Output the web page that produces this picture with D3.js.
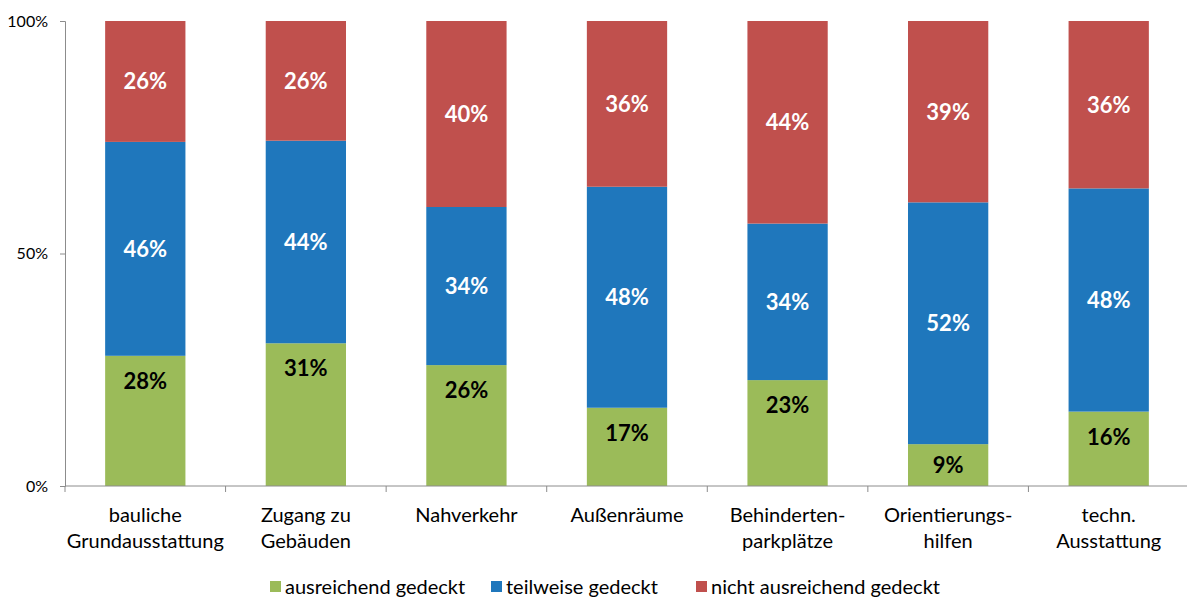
<!DOCTYPE html>
<html>
<head>
<meta charset="utf-8">
<script src="https://cdn.jsdelivr.net/npm/d3@7"></script>
<style>
  body { margin: 0; background: #fff; }
  text { font-family: Lato, "Open Sans", sans-serif; }
</style>
</head>
<body>
<svg id="chart" width="1187" height="599"></svg>
<script>
var categories = [
  ["bauliche", "Grundausstattung"],
  ["Zugang zu", "Gebäuden"],
  ["Nahverkehr"],
  ["Außenräume"],
  ["Behinderten-", "parkplätze"],
  ["Orientierungs-", "hilfen"],
  ["techn.", "Ausstattung"]
];
var ausreichend = [28, 31, 26, 17, 23, 9, 16];
var teilweise = [46, 44, 34, 48, 34, 52, 48];
var nicht = [26, 26, 40, 36, 44, 39, 36];
var seriesNames = ["ausreichend gedeckt", "teilweise gedeckt", "nicht ausreichend gedeckt"];
var yTicks = [0, 0.5, 1];

(function() {
  var colors = ["#9BBB59", "#1F77BC", "#C0504D"];
  var labelColors = ["#000", "#fff", "#fff"];
  var svg = d3.select("#chart");
  var mLeft = 65, mRight = 1189, mTop = 21, mBottom = 486;

  var rows = categories.map(function(c, i) {
    return { s0: ausreichend[i], s1: teilweise[i], s2: nicht[i] };
  });
  var layers = d3.stack().keys(["s0", "s1", "s2"]).offset(d3.stackOffsetExpand)(rows);

  var x = d3.scaleBand().domain(d3.range(categories.length)).range([mLeft, mRight]).paddingInner(0.5).paddingOuter(0.25);
  var xb = d3.scaleBand().domain(d3.range(categories.length)).range([mLeft, mRight]);
  var y = d3.scaleLinear().domain([0, 1]).range([mBottom, mTop]);

  // y axis
  var yAxis = svg.append("g").attr("transform", "translate(" + mLeft + ",0)")
    .call(d3.axisLeft(y).tickValues(yTicks).tickFormat(d3.format(".0%")).tickSize(5).tickPadding(12));
  yAxis.select(".domain").attr("stroke", "#8c8c8c");
  yAxis.selectAll(".tick line").attr("stroke", "#8c8c8c");
  yAxis.selectAll(".tick text").attr("font-size", 16).attr("fill", "#000").attr("font-family", "Lato, sans-serif");

  // bars
  layers.forEach(function(layer, li) {
    var g = svg.append("g");
    g.selectAll("rect").data(layer).enter().append("rect")
      .attr("x", function(d, i) { return x(i); })
      .attr("width", x.bandwidth())
      .attr("y", function(d) { return y(d[1]); })
      .attr("height", function(d) { return y(d[0]) - y(d[1]); })
      .attr("fill", colors[li]);
    g.selectAll("text").data(layer).enter().append("text")
      .attr("x", function(d, i) { return x(i) + x.bandwidth() / 2; })
      .attr("y", function(d) {
        var mid = (y(d[0]) + y(d[1])) / 2;
        // bottom series labels sit near the top of the segment (inside end)
        return li === 0 ? Math.min(y(d[1]) + 25, mid) : mid;
      })
      .attr("dy", "0.36em")
      .attr("text-anchor", "middle")
      .attr("font-size", 22)
      .attr("font-weight", "bold")
      .attr("fill", labelColors[li])
      .text(function(d) { return d.data["s" + li] + "%"; });
  });

  // x axis
  var xAxisG = svg.append("g");
  xAxisG.append("line").attr("x1", mLeft).attr("x2", 1187).attr("y1", mBottom).attr("y2", mBottom).attr("stroke", "#8c8c8c");
  xAxisG.selectAll("line.tk").data(d3.range(categories.length + 1)).enter().append("line")
    .attr("class", "tk")
    .attr("x1", function(i) { return i < categories.length ? xb(i) : mRight; })
    .attr("x2", function(i) { return i < categories.length ? xb(i) : mRight; })
    .attr("y1", mBottom).attr("y2", mBottom + 6).attr("stroke", "#8c8c8c");

  var lab = xAxisG.selectAll("text").data(categories).enter().append("text")
    .attr("text-anchor", "middle")
    .attr("font-size", 20)
    .attr("fill", "#000")
    .attr("x", function(d, i) { return xb(i) + xb.bandwidth() / 2; })
    .attr("y", 522);
  lab.selectAll("tspan").data(function(d) { return d; }).enter().append("tspan")
    .attr("x", function() { return d3.select(this.parentNode).attr("x"); })
    .attr("dy", function(d, j) { return j === 0 ? 0 : 26; })
    .text(function(d) { return d; });

  // legend
  var legendX = [270, 491, 696];
  var leg = svg.append("g");
  seriesNames.forEach(function(n, i) {
    leg.append("rect").attr("x", legendX[i]).attr("y", 581).attr("width", 11).attr("height", 11).attr("fill", colors[i]);
    leg.append("text").attr("x", legendX[i] + 15).attr("y", 594).attr("font-size", 20).attr("fill", "#000").text(n);
  });
})();
</script>
</body>
</html>
